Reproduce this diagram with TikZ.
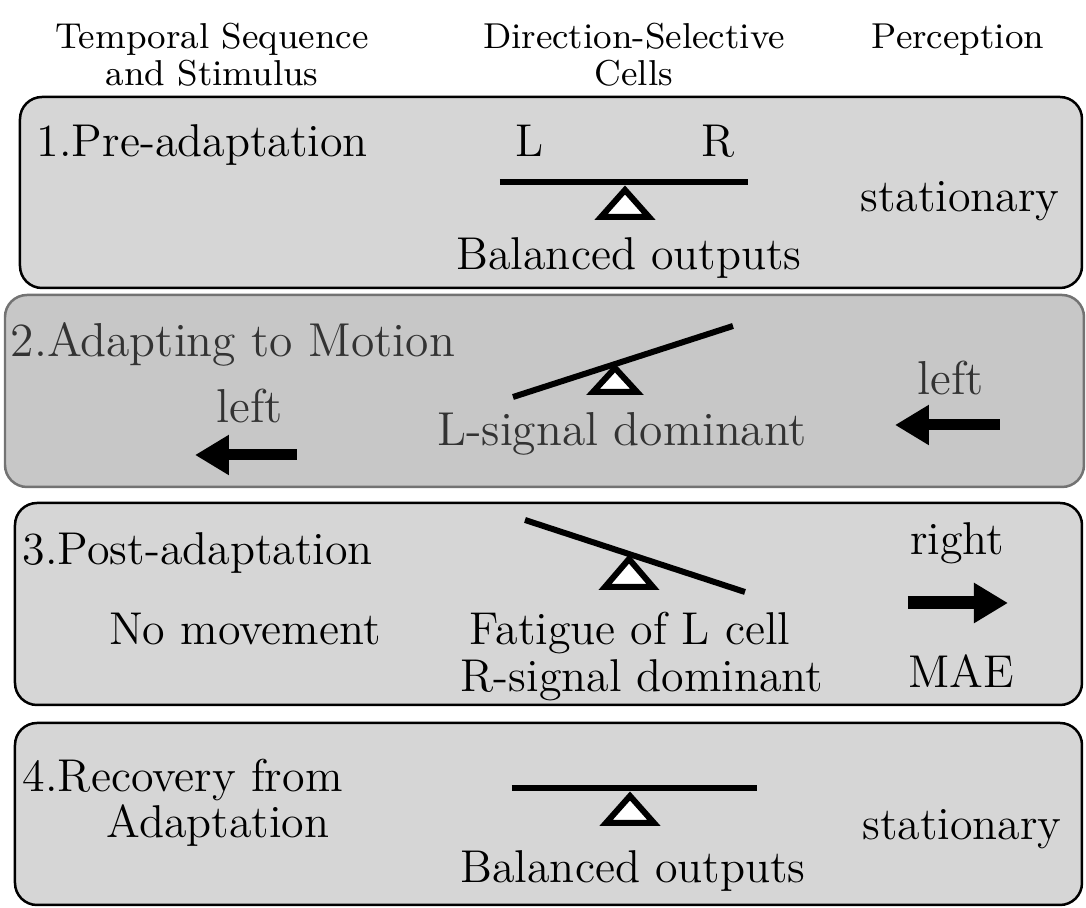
\documentclass[tikz,border=0pt]{standalone}
\usepackage{fontspec}
\usetikzlibrary{arrows.meta,positioning}

\definecolor{panelgray}{gray}{0.84}
\definecolor{motiongray}{gray}{0.78}
\definecolor{motionedge}{gray}{0.45}
\definecolor{motiontext}{gray}{0.2}

\begin{document}
\begin{tikzpicture}[
        x=0.25pt, y=-0.25pt,
        head/.style={font=\rmfamily\fontsize{9}{10}\selectfont, inner sep=0pt, text height=6.25pt, text depth=2pt},
        boxtext/.style={font=\rmfamily\fontsize{11.5}{13}\selectfont, inner sep=0pt, text height=8pt, text depth=2.5pt},
        motiontext/.style={boxtext, text=motiontext, font=\rmfamily\fontsize{11.9}{13}\selectfont},
        panel/.style={draw=black, line width=0.625pt, fill=panelgray, rounded corners=5.5pt},
        beam/.style={line width=1.5pt},
        fulcrum/.style={draw, line width=1.5pt, fill=white, line join=miter},
        bigarrow/.style={line width=2.75pt, -{Triangle[length=8.5pt, width=9.5pt]}}
    ]
        \useasboundingbox (0,0) rectangle (1086,908);

        % Column headers
        \node[head, anchor=base] (seq1) at (212,49) {Temporal Sequence};
        \node[head] (seq2) [below=0.5pt of seq1] {and Stimulus};
        \node[head, anchor=base] (dsc1) at (634,49) {Direction-Selective};
        \node[head] (dsc2) [below=0.5pt of dsc1] {Cells};
        \node[head, anchor=base] (perc) at (958,49) {Perception};

        % Panels
        \draw[panel] (20,97) rectangle (1082,288);
        \draw[panel, fill=motiongray, draw=motionedge] (5,295) rectangle (1084,487);
        \draw[panel] (15,503) rectangle (1082,705);
        \draw[panel] (15,723) rectangle (1082,905);

        % 1. Pre-adaptation
        \node[boxtext, anchor=base west] (pre) at (36,157) {1.Pre-adaptation};
        \node[boxtext, anchor=base] (cellL) at (530,157) {L};
        \node[boxtext, anchor=base] (cellR) at (718,157) {R};
        \coordinate (b1l) at (500,182);
        \coordinate (b1r) at (748,182);
        \draw[beam] (b1l) -- (b1r);
        \draw[fulcrum] (625,190) -- ++(-24,27) -- ++(48,0) -- cycle;
        \node[boxtext, anchor=base] (bal1) at (629,270) {Balanced outputs};
        \node[boxtext, anchor=base] (stat1) at (960,212) {stationary};

        % 2. Adapting to motion
        \node[motiontext, anchor=base west] (adapt) at (10,357) {2.Adapting to Motion};
        \node[motiontext, anchor=base] (stimL) at (250,423) {left};
        \node[motiontext, anchor=base] (lsig) at (622,446) {L-signal dominant};
        \node[motiontext, anchor=base] (percL) at (951,395) {left};
        \coordinate (b2l) at (513,397);
        \coordinate (b2r) at (733,326);
        \draw[beam] (b2l) -- (b2r);
        \draw[fulcrum] (615,368) -- ++(-22,24) -- ++(44,0) -- cycle;
        \coordinate (s2a) at (297,455);
        \coordinate (s2b) at (195,455);
        \draw[bigarrow] (s2a) -- (s2b);
        \coordinate (p2a) at (1000,425);
        \coordinate (p2b) at (895,425);
        \draw[bigarrow] (p2a) -- (p2b);

        % 3. Post-adaptation
        \node[boxtext, anchor=base west] (post) at (22,565) {3.Post-adaptation};
        \node[boxtext, anchor=base] (nomove) at (245,645) {No movement};
        \node[boxtext, anchor=base] (fatigue) at (630,645) {Fatigue of L cell};
        \node[boxtext] (rsig) [below=0.75pt of fatigue.south, anchor=north, xshift=3pt] {R-signal dominant};
        \node[boxtext, anchor=base] (right) at (957,555) {right};
        \node[boxtext, anchor=base] (mae) at (961,688) {MAE};
        \coordinate (b3l) at (525,520);
        \coordinate (b3r) at (745,592);
        \draw[beam] (b3l) -- (b3r);
        \draw[fulcrum] (629,559) -- ++(-24,28) -- ++(48,0) -- cycle;
        \coordinate (p3a) at (908,603);
        \coordinate (p3b) at (1008,603);
        \draw[bigarrow, line width=3.25pt] (p3a) -- (p3b);

        % 4. Recovery from adaptation
        \node[boxtext, anchor=base west] (rec) at (22,792) {4.Recovery from};
        \node[boxtext, anchor=base] (rec2) at (218,838) {Adaptation};
        \coordinate (b4l) at (512,788);
        \coordinate (b4r) at (757,788);
        \draw[beam] (b4l) -- (b4r);
        \draw[fulcrum] (630,796) -- ++(-24,27) -- ++(48,0) -- cycle;
        \node[boxtext, anchor=base] (bal4) at (633,883) {Balanced outputs};
        \node[boxtext, anchor=base] (stat4) at (962,840) {stationary};
    \end{tikzpicture}
\end{document}
